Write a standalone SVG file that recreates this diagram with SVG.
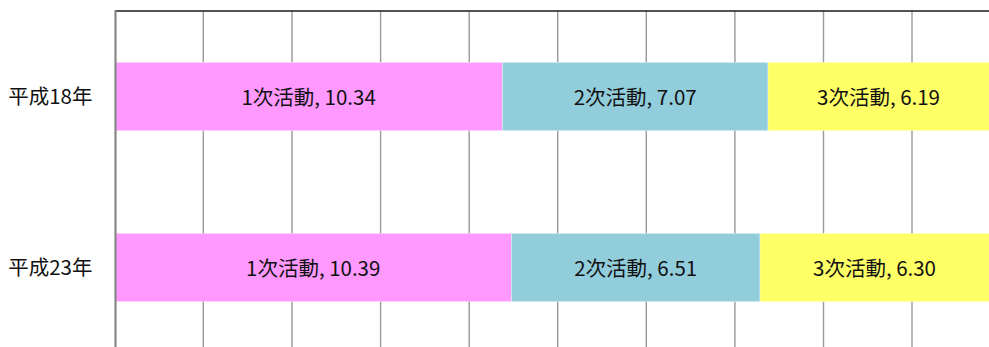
<svg xmlns="http://www.w3.org/2000/svg" width="989" height="347" viewBox="0 0 989 347">
<style>
.grid{stroke:#999999;stroke-width:1.4}
.axis{stroke:#868686;stroke-width:2.2}
.top{stroke:#1a1a1a;stroke-width:1.6}
.s1{fill:#FF99FF}
.s2{fill:#92CDDC}
.s3{fill:#FFFF66}
.seg{stroke:#ffffff;stroke-width:0.6;stroke-opacity:0.6}
.lbl{font-family:"Noto Sans CJK JP","Noto Sans",sans-serif;font-size:20.5px;fill:#111111;text-anchor:middle}
.cat{font-family:"Noto Sans CJK JP","Noto Sans",sans-serif;font-size:20.5px;fill:#111111;text-anchor:end}
</style>
<rect x="0" y="0" width="989" height="347" fill="#ffffff"/>
<g id="gridlines">
<line class="grid" x1="203.3" y1="11" x2="203.3" y2="347"/>
<line class="grid" x1="292" y1="11" x2="292" y2="347"/>
<line class="grid" x1="380.6" y1="11" x2="380.6" y2="347"/>
<line class="grid" x1="469.2" y1="11" x2="469.2" y2="347"/>
<line class="grid" x1="557.7" y1="11" x2="557.7" y2="347"/>
<line class="grid" x1="646.3" y1="11" x2="646.3" y2="347"/>
<line class="grid" x1="734.9" y1="11" x2="734.9" y2="347"/>
<line class="grid" x1="823.5" y1="11" x2="823.5" y2="347"/>
<line class="grid" x1="912" y1="11" x2="912" y2="347"/>
<line class="top" x1="115" y1="11" x2="989" y2="11"/>
</g>
<g id="bar-h18">
<rect class="s1 seg" x="115" y="62.3" width="387.3" height="68.4"/>
<rect class="s2 seg" x="502.3" y="62.3" width="265.7" height="68.4"/>
<rect class="s3 seg" x="768" y="62.3" width="232" height="68.4"/>
<text class="lbl" x="308.6" y="104.5">1次活動, 10.34</text>
<text class="lbl" x="635.2" y="104.5">2次活動, 7.07</text>
<text class="lbl" x="878.5" y="104.5">3次活動, 6.19</text>
</g>
<g id="bar-h23">
<rect class="s1 seg" x="115" y="233.3" width="396.3" height="68.4"/>
<rect class="s2 seg" x="511.3" y="233.3" width="248.7" height="68.4"/>
<rect class="s3 seg" x="760" y="233.3" width="240" height="68.4"/>
<text class="lbl" x="313.2" y="275.5">1次活動, 10.39</text>
<text class="lbl" x="635.7" y="275.5">2次活動, 6.51</text>
<text class="lbl" x="874.5" y="275.5">3次活動, 6.30</text>
</g>
<g id="axis">
<line class="axis" x1="115.5" y1="10" x2="115.5" y2="347"/>
</g>
<g id="categories">
<text class="cat" x="92.5" y="103.5">平成18年</text>
<text class="cat" x="92.5" y="274.5">平成23年</text>
</g>
</svg>
